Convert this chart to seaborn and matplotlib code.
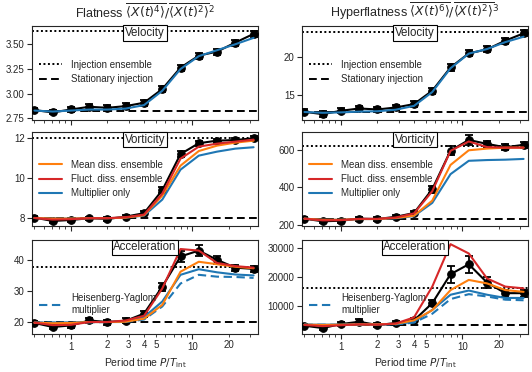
import numpy as np
import pandas as pd
import matplotlib
matplotlib.use('Agg')
import matplotlib.pyplot as plt
import seaborn as sns
from matplotlib.lines import Line2D
from matplotlib.ticker import FixedLocator, FixedFormatter, NullFormatter

# ---------------- data ----------------
period = [0.5, 0.707, 1.0, 1.414, 2.0, 2.828, 4.0, 5.657, 8.0, 11.31, 16.0, 22.63, 32.0]

# Velocity
vel_flat_data = [2.835, 2.811, 2.841, 2.868, 2.858, 2.875, 2.909, 3.047, 3.264, 3.385, 3.426, 3.517, 3.605]
vel_flat_err = [0.02, 0.02, 0.025, 0.03, 0.03, 0.03, 0.03, 0.03, 0.03, 0.03, 0.03, 0.03, 0.03]
vel_flat_model = [2.83, 2.82, 2.83, 2.84, 2.84, 2.85, 2.885, 3.03, 3.25, 3.38, 3.44, 3.50, 3.565]
vel_flat_inj, vel_flat_stat = 3.638, 2.824

vel_hyp_data = [12.83, 12.52, 12.96, 13.26, 13.13, 13.39, 13.83, 15.57, 18.6, 20.43, 20.96, 22.09, 23.04]
vel_hyp_err = [0.3, 0.35, 0.35, 0.35, 0.35, 0.35, 0.35, 0.4, 0.4, 0.4, 0.4, 0.4, 0.4]
vel_hyp_model = [12.8, 12.7, 12.75, 12.85, 12.9, 13.1, 13.6, 15.4, 18.5, 20.4, 21.0, 21.9, 22.6]
vel_hyp_inj, vel_hyp_stat = 23.26, 12.74

# Vorticity
vort_flat_data = [8.0, 7.83, 7.88, 7.97, 7.93, 8.05, 8.22, 9.37, 11.18, 11.72, 11.85, 11.88, 11.97]
vort_flat_err = [0.08, 0.08, 0.08, 0.08, 0.08, 0.08, 0.1, 0.15, 0.15, 0.12, 0.1, 0.1, 0.1]
vort_flat_mean = [7.98, 7.95, 7.95, 7.97, 7.97, 8.0, 8.12, 9.1, 10.6, 11.33, 11.6, 11.75, 11.85]
vort_flat_fluct = [7.98, 7.9, 7.92, 7.97, 7.97, 8.02, 8.15, 9.2, 10.95, 11.55, 11.7, 11.8, 11.9]
vort_flat_mult = [7.98, 7.95, 7.95, 7.97, 7.97, 8.0, 8.1, 8.9, 10.4, 11.1, 11.3, 11.45, 11.52]
vort_flat_inj, vort_flat_stat = 11.96, 8.0

vort_hyp_data = [234, 220, 223, 234, 232, 244, 264, 391, 596, 653, 632, 614, 627]
vort_hyp_err = [10, 10, 10, 10, 10, 10, 12, 18, 25, 25, 15, 15, 15]
vort_hyp_mean = [234, 228, 228, 232, 232, 238, 250, 330, 520, 598, 607, 612, 612]
vort_hyp_fluct = [234, 225, 226, 233, 233, 240, 262, 380, 595, 645, 615, 612, 612]
vort_hyp_mult = [234, 228, 228, 232, 232, 236, 248, 318, 471, 542, 546, 548, 552]
vort_hyp_inj, vort_hyp_stat = 623, 234

# Acceleration
acc_flat_data = [19.7, 18.4, 18.9, 20.5, 20.0, 20.4, 22.7, 31.4, 41.1, 43.0, 40.0, 37.5, 37.1]
acc_flat_err = [0.6, 0.6, 0.7, 0.8, 0.8, 0.8, 1.0, 1.3, 1.8, 1.8, 1.2, 1.0, 1.0]
acc_flat_mean = [19.8, 19.6, 19.7, 20.0, 20.0, 20.1, 21.1, 25.5, 36.2, 39.4, 38.6, 37.8, 37.3]
acc_flat_fluct = [19.8, 19.0, 19.1, 20.0, 20.0, 20.5, 22.0, 30.8, 43.5, 43.0, 39.0, 38.0, 37.5]
acc_flat_mult = [19.8, 19.8, 19.8, 20.0, 20.0, 20.2, 21.6, 26.6, 35.2, 37.0, 36.0, 35.3, 35.0]
acc_flat_hy = [19.8, 19.8, 19.8, 19.9, 20.0, 20.0, 20.8, 25.0, 32.4, 35.2, 34.6, 34.5, 34.2]
acc_flat_inj, acc_flat_stat = 37.86, 20.0

acc_hyp_data = [3140, 2340, 3710, 4510, 3370, 4060, 4970, 10910, 20860, 24290, 18000, 14340, 14340]
acc_hyp_err = [500, 500, 600, 800, 600, 600, 700, 1000, 3000, 3000, 2000, 1200, 1200]
acc_hyp_mean = [3500, 3400, 3500, 3600, 3600, 3800, 5000, 8500, 15400, 18900, 17700, 15400, 14800]
acc_hyp_fluct = [3400, 3000, 3300, 3600, 3500, 3900, 6000, 16600, 31200, 28000, 19400, 16600, 16000]
acc_hyp_mult = [3500, 3500, 3500, 3600, 3600, 3700, 4500, 8600, 13800, 15250, 13800, 12700, 12700]
acc_hyp_hy = [3500, 3500, 3500, 3500, 3600, 3600, 4200, 7260, 12300, 14000, 13200, 12100, 11900]
acc_hyp_inj, acc_hyp_stat = 16060, 3370

# ---------------- style ----------------
sns.set_theme(style='ticks')
plt.rcParams['font.family'] = ['Liberation Sans', 'DejaVu Sans']
plt.rcParams['mathtext.fontset'] = 'dejavusans'
plt.rcParams['axes.linewidth'] = 0.8

C_BLUE, C_ORANGE, C_RED = '#1f77b4', '#ff7f0e', '#d62728'
FS = 7

fig = plt.figure(figsize=(5.32, 3.72), dpi=100)
xl, xr, w = 0.0607, 0.5682, 0.4237
rows = [(0.677, 0.254), (0.3925, 0.252), (0.1022, 0.2526)]


def make_ax(col, row):
    b, h = rows[row]
    return fig.add_axes([xl if col == 0 else xr, b, w, h])


def draw(ax, data, err, models, inj, stat, ylim, yticks, ylabels, label, bottom):
    ax.set_xscale('log')
    ax.axhline(inj, color='black', ls=(0, (1, 1.3)), lw=1.4, zorder=1)
    ax.axhline(stat, color='black', ls=(0, (4, 2.2)), lw=1.4, zorder=1)
    sns.lineplot(x=period, y=data, ax=ax, color='black', lw=1.5, marker='o',
                 markersize=5.5, markeredgecolor='black', legend=False, zorder=3)
    ax.errorbar(period, data, yerr=err, fmt='none', ecolor='black', elinewidth=1.3,
                capsize=3.2, capthick=1.3, zorder=3)
    for vals, col, ls in models:
        sns.lineplot(x=period, y=vals, ax=ax, color=col, lw=1.5, linestyle=ls,
                     legend=False, zorder=4)
    ax.set_xlim(0.48, 34.6)
    ax.set_ylim(*ylim)
    ax.yaxis.set_major_locator(FixedLocator(yticks))
    ax.yaxis.set_major_formatter(FixedFormatter(ylabels))
    ax.yaxis.set_minor_locator(FixedLocator([]))
    major = [1, 10]
    minor = [0.5, 0.6, 0.7, 0.8, 0.9, 2, 3, 4, 5, 6, 7, 8, 9, 20, 30]
    ax.xaxis.set_major_locator(FixedLocator(major))
    ax.xaxis.set_minor_locator(FixedLocator(minor))
    if bottom:
        ax.xaxis.set_major_formatter(FixedFormatter(['1', '10']))
        mlabels = [str(m) if m in (2, 3, 4, 5, 20) else '' for m in minor]
        ax.xaxis.set_minor_formatter(FixedFormatter(mlabels))
        ax.set_xlabel(r'Period time $P/T_{\mathrm{int}}$', fontsize=FS + 0.5, labelpad=3)
    else:
        ax.xaxis.set_major_formatter(NullFormatter())
        ax.xaxis.set_minor_formatter(NullFormatter())
    ax.tick_params(which='major', direction='out', length=3.5, width=0.8, labelsize=FS, pad=2)
    ax.tick_params(which='minor', direction='out', length=2, width=0.6, labelsize=FS, pad=2)
    for sp in ax.spines.values():
        sp.set_visible(True)
        sp.set_linewidth(0.8)
    ax.text(0.5, 0.985, label, transform=ax.transAxes, ha='center', va='top',
            fontsize=8.3, zorder=10,
            bbox=dict(boxstyle='square,pad=0.15', fc='white', ec='black', lw=0.8))


leg_kw = dict(frameon=False, fontsize=FS, handlelength=2.4, handletextpad=0.9,
              labelspacing=0.45, borderaxespad=0.3)

# Row 1: velocity
ax = make_ax(0, 0)
draw(ax, vel_flat_data, vel_flat_err, [(vel_flat_model, C_BLUE, '-')], vel_flat_inj, vel_flat_stat,
     (2.733, 3.688), [2.75, 3.0, 3.25, 3.5], ['2.75', '3.00', '3.25', '3.50'], 'Velocity', False)
ax.set_title(r'Flatness $\overline{\langle X(t)^4\rangle}/\overline{\langle X(t)^2\rangle}^2$',
             fontsize=9, pad=6)
h_inj = Line2D([], [], color='black', ls=(0, (1, 1.3)), lw=1.4)
h_stat = Line2D([], [], color='black', ls=(0, (4, 2.2)), lw=1.4)
ax.legend([h_inj, h_stat], ['Injection ensemble', 'Stationary injection'],
          loc='center left', bbox_to_anchor=(0.0, 0.51), **leg_kw)

ax = make_ax(1, 0)
draw(ax, vel_hyp_data, vel_hyp_err, [(vel_hyp_model, C_BLUE, '-')], vel_hyp_inj, vel_hyp_stat,
     (11.74, 24.04), [15, 20], ['15', '20'], 'Velocity', False)
ax.set_title(r'Hyperflatness $\overline{\langle X(t)^6\rangle}/\overline{\langle X(t)^2\rangle}^3$',
             fontsize=9, pad=6)
ax.legend([h_inj, h_stat], ['Injection ensemble', 'Stationary injection'],
          loc='center left', bbox_to_anchor=(0.0, 0.51), **leg_kw)

# Row 2: vorticity
h_mean = Line2D([], [], color=C_ORANGE, lw=1.5)
h_fluct = Line2D([], [], color=C_RED, lw=1.5)
h_mult = Line2D([], [], color=C_BLUE, lw=1.5)
ax = make_ax(0, 1)
draw(ax, vort_flat_data, vort_flat_err,
     [(vort_flat_mult, C_BLUE, '-'), (vort_flat_mean, C_ORANGE, '-'), (vort_flat_fluct, C_RED, '-')],
     vort_flat_inj, vort_flat_stat, (7.58, 12.27), [8, 10, 12], ['8', '10', '12'], 'Vorticity', False)
ax.legend([h_mean, h_fluct, h_mult], ['Mean diss. ensemble', 'Fluct. diss. ensemble', 'Multiplier only'],
          loc='center left', bbox_to_anchor=(0.0, 0.50), **leg_kw)

ax = make_ax(1, 1)
draw(ax, vort_hyp_data, vort_hyp_err,
     [(vort_hyp_mult, C_BLUE, '-'), (vort_hyp_mean, C_ORANGE, '-'), (vort_hyp_fluct, C_RED, '-')],
     vort_hyp_inj, vort_hyp_stat, (195, 694), [200, 400, 600], ['200', '400', '600'], 'Vorticity', False)
ax.legend([h_mean, h_fluct, h_mult], ['Mean diss. ensemble', 'Fluct. diss. ensemble', 'Multiplier only'],
          loc='center left', bbox_to_anchor=(0.0, 0.50), **leg_kw)

# Row 3: acceleration
h_hy = Line2D([], [], color=C_BLUE, lw=1.5, ls=(0, (4, 2.2)))
ax = make_ax(0, 2)
draw(ax, acc_flat_data, acc_flat_err,
     [(acc_flat_hy, C_BLUE, (0, (4, 2.2))), (acc_flat_mult, C_BLUE, '-'), (acc_flat_mean, C_ORANGE, '-'),
      (acc_flat_fluct, C_RED, '-')],
     acc_flat_inj, acc_flat_stat, (16.15, 46.4), [20, 30, 40], ['20', '30', '40'], 'Acceleration', True)
ax.legend([h_hy], ['Heisenberg-Yaglom\nmultiplier'], loc='center left', bbox_to_anchor=(0.0, 0.32), **leg_kw)

ax = make_ax(1, 2)
draw(ax, acc_hyp_data, acc_hyp_err,
     [(acc_hyp_hy, C_BLUE, (0, (4, 2.2))), (acc_hyp_mult, C_BLUE, '-'), (acc_hyp_mean, C_ORANGE, '-'),
      (acc_hyp_fluct, C_RED, '-')],
     acc_hyp_inj, acc_hyp_stat, (300, 32630), [10000, 20000, 30000], ['10000', '20000', '30000'],
     'Acceleration', True)
ax.legend([h_hy], ['Heisenberg-Yaglom\nmultiplier'], loc='center left', bbox_to_anchor=(0.0, 0.32), **leg_kw)

fig.savefig('out.png', dpi=100)
